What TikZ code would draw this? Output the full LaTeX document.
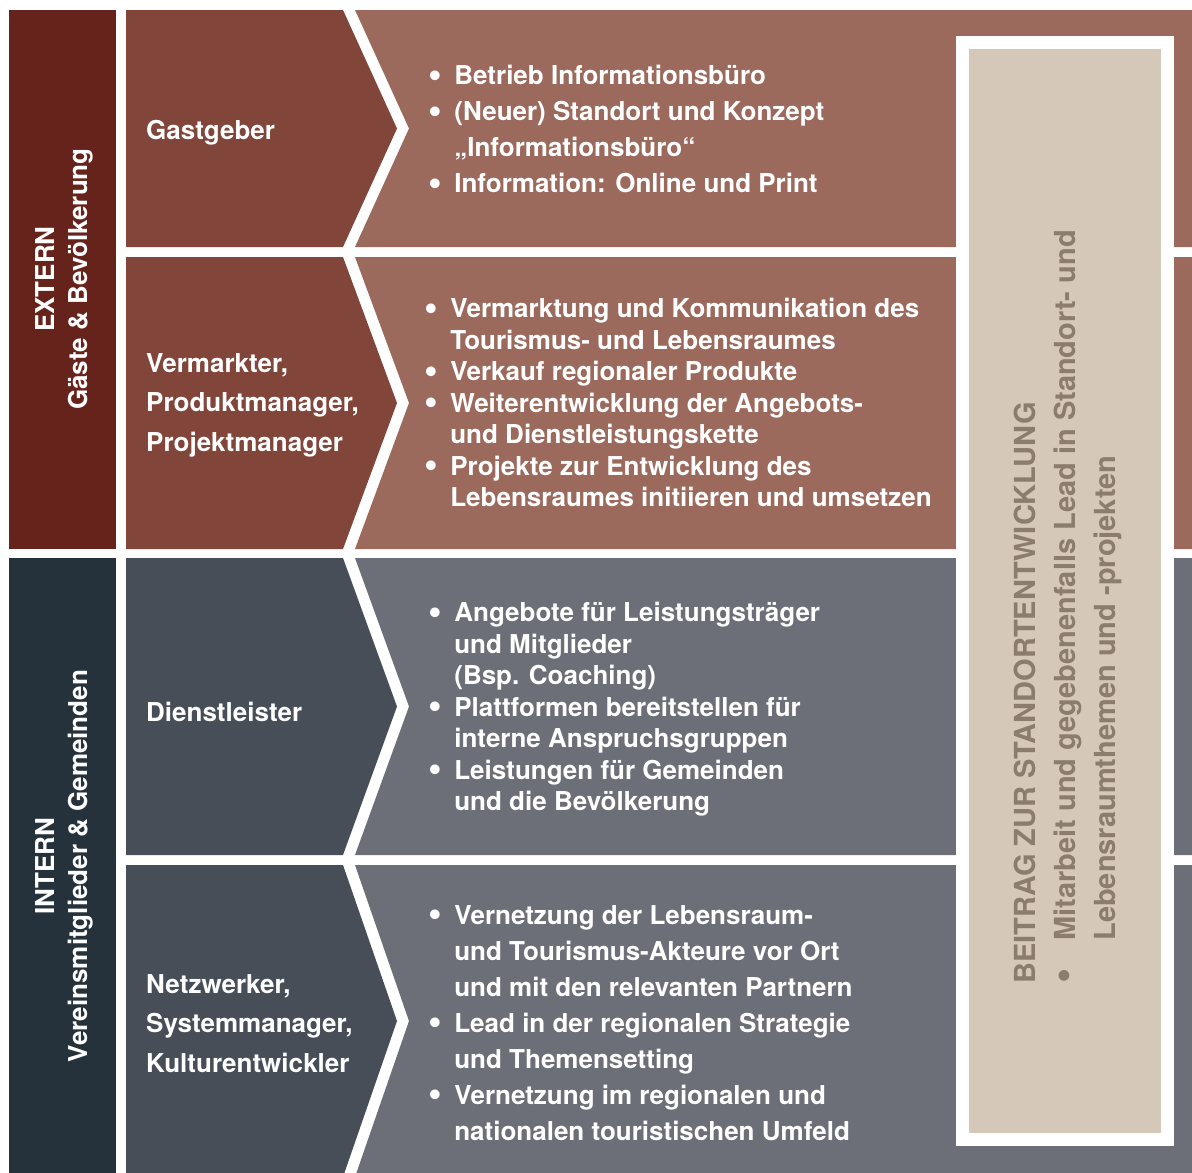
\documentclass[tikz,border=0pt]{standalone}
\usepackage{fontspec}
\setmainfont{TeX Gyre Heros}
\usepackage{tikz}

\definecolor{externbar}{HTML}{66231B}
\definecolor{internbar}{HTML}{25313B}
\definecolor{reddark}{HTML}{82453A}
\definecolor{redlight}{HTML}{9C6A5D}
\definecolor{greydark}{HTML}{474E58}
\definecolor{greylight}{HTML}{6C6E78}
\definecolor{beige}{HTML}{D6C8B8}
\definecolor{beigetext}{HTML}{8C7C6E}

\newcommand{\bul}{\raisebox{-0.1em}{\scalebox{1.5}{\textbullet}}}

\begin{document}
\begin{tikzpicture}[x=1pt, y=-1pt,
    side/.style={text=white, inner sep=0pt, rotate=90, font=\fontsize{26}{33}\selectfont\bfseries},
    role/.style={text=white, inner sep=0pt, anchor=west, font=\fontsize{26}{39.5}\selectfont\bfseries},
    list/.style={text=white, inner sep=0pt, anchor=west, font=\fontsize{26}{#1}\selectfont\bfseries},
    panel/.style={text=beigetext, inner sep=0pt, rotate=90, anchor=west, font=\fontsize{29}{40}\selectfont\bfseries}]
  \useasboundingbox (0,0) rectangle (1192,1173);

  % left bars
  \fill[externbar] (9,10) rectangle (116,549);
  \fill[internbar] (9,558) rectangle (116,1173);

  % chevron rows
  \foreach \ya/\ym/\yb/\dk/\lt in {10/128.5/247/reddark/redlight,
      257/403/549/reddark/redlight,
      558/706.5/855/greydark/greylight,
      865/1021/1177/greydark/greylight}{
    \fill[\dk] (126,\ya) -- (343,\ya) -- (397,\ym) -- (343,\yb) -- (126,\yb) -- cycle;
    \fill[\lt] (355,\ya) -- (409,\ym) -- (355,\yb) -- (1192,\yb) -- (1192,\ya) -- cycle;
  }

  % right panel
  \fill[white] (956,36) rectangle (1174,1146);
  \fill[beige] (969,49) rectangle (1161,1133);

  \node[side] (extern) at (64.5,279) {\begin{tabular}{@{}c@{}}EXTERN\\Gäste \& Bevölkerung\end{tabular}};
  \node[side] (intern) at (64.5,866) {\begin{tabular}{@{}c@{}}INTERN\\Vereinsmitglieder \& Gemeinden\end{tabular}};

  \node[role] (gastgeber) at (146,133) {Gastgeber};
  \node[role] (vermarkter) at (146,404) {\begin{tabular}{@{}l@{}}Vermarkter,\\Produktmanager,\\Projektmanager\end{tabular}};
  \node[role] (dienstleister) at (146,712) {Dienstleister};
  \node[role] (netzwerker) at (146,1025) {\begin{tabular}{@{}l@{}}Netzwerker,\\Systemmanager,\\Kulturentwickler\end{tabular}};

  \node[list=36] (gastliste) at (428.5,131.5) {\begin{tabular}{@{}l@{\hspace{12pt}}l@{}}
    \bul & Betrieb Informationsbüro\\
    \bul & (Neuer) Standort und Konzept\\
         & „Informationsbüro“\\
    \bul & Information: Online und Print
  \end{tabular}};

  \node[list=31.5] (vermarkterliste) at (424.5,406) {\begin{tabular}{@{}l@{\hspace{12pt}}l@{}}
    \bul & Vermarktung und Kommunikation des\\
         & Tourismus- und Lebensraumes\\
    \bul & Verkauf regionaler Produkte\\
    \bul & Weiterentwicklung der Angebots-\\
         & und Dienstleistungskette\\
    \bul & Projekte zur Entwicklung des\\
         & Lebensraumes initiieren und umsetzen
  \end{tabular}};

  \node[list=31.5] (dienstliste) at (428.5,710) {\begin{tabular}{@{}l@{\hspace{12pt}}l@{}}
    \bul & Angebote für Leistungsträger\\
         & und Mitglieder\\
         & (Bsp. Coaching)\\
    \bul & Plattformen bereitstellen für\\
         & interne Anspruchsgruppen\\
    \bul & Leistungen für Gemeinden\\
         & und die Bevölkerung
  \end{tabular}};

  \node[list=36] (netzliste) at (428.5,1025) {\begin{tabular}{@{}l@{\hspace{12pt}}l@{}}
    \bul & Vernetzung der Lebensraum-\\
         & und Tourismus-Akteure vor Ort\\
         & und mit den relevanten Partnern\\
    \bul & Lead in der regionalen Strategie\\
         & und Themensetting\\
    \bul & Vernetzung im regionalen und\\
         & nationalen touristischen Umfeld
  \end{tabular}};

  \node[panel] (beitrag) at (1067,984) {\begin{tabular}{@{}l@{\hspace{28pt}}l@{}}
    \multicolumn{2}{@{}l@{}}{BEITRAG ZUR STANDORTENTWICKLUNG}\\
    \bul & Mitarbeit und gegebenenfalls Lead in Standort- und\\
         & Lebensraumthemen und -projekten
  \end{tabular}};
\end{tikzpicture}
\end{document}
